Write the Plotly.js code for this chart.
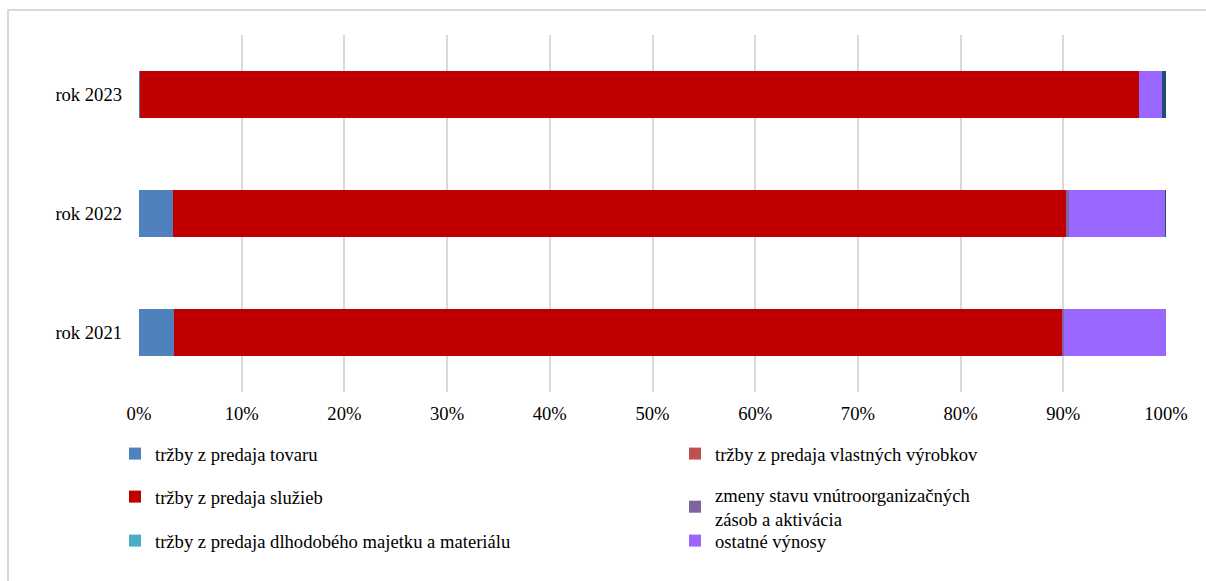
<!DOCTYPE html>
<html>
<head>
<meta charset="utf-8">
<script src="https://cdn.plot.ly/plotly-3.0.1.min.js"></script>
<style>html,body{margin:0;padding:0;background:#fff;}#chart{width:1206px;height:581px;}</style>
</head>
<body>
<div id="chart"></div>
<script>
const categories = ["rok 2021", "rok 2022", "rok 2023"];
const seriesNames = [
  "tržby z predaja tovaru",
  "tržby z predaja vlastných výrobkov",
  "tržby z predaja služieb",
  "zmeny stavu vnútroorganizačných<br>zásob a aktivácia",
  "tržby z predaja dlhodobého majetku a materiálu",
  "ostatné výnosy",
  "ostatné"
];
const tovaru      = [3.4, 3.3, 0.1];
const vyrobkov    = [0.0, 0.0, 0.0];
const sluzieb     = [86.5, 87.0, 97.3];
const zmeny       = [0.2, 0.3, 0.0];
const dlhodobeho  = [0.0, 0.0, 0.0];
const ostatne     = [9.9, 9.3, 2.2];
const ine         = [0.0, 0.1, 0.4];
const seriesValues = [tovaru, vyrobkov, sluzieb, zmeny, dlhodobeho, ostatne, ine];
const colors = ["#4F81BD", "#C0504D", "#C00000", "#8064A2", "#4BACC6", "#9966FF", "#1F4E79"];
const xTicks = [0,10,20,30,40,50,60,70,80,90,100];
const xTickText = xTicks.map(v => v + "%");

const legendNames = ["legend", "legend2", "legend3", "legend4", "legend5", "legend6"];
const traces = seriesValues.map((vals, i) => ({
  type: "bar",
  orientation: "h",
  name: seriesNames[i],
  y: categories,
  x: vals,
  marker: {color: colors[i], line: {width: 0}},
  showlegend: i < 6,
  legend: i < 6 ? legendNames[i] : undefined,
  hoverinfo: "x+name"
}));

const font = {family: "'Liberation Serif', 'Times New Roman', serif", size: 18.6, color: "#000"};
// plot area: x 139..1166, y 35..392
const T = 35, B = 392;
const pw = 1166 - 139, ph = B - T;
function px2x(p) { return (p - 139) / pw; }
function py2y(p) { return (B - p) / ph; }
function leg(xp, yp) {
  return {x: px2x(xp), y: py2y(yp), xanchor: "left", yanchor: "middle",
          orientation: "v", font: font, bgcolor: "rgba(0,0,0,0)", borderwidth: 0,
          itemwidth: 30, itemclick: false, itemdoubleclick: false};
}
const layout = {
  width: 1206, height: 581,
  margin: {l: 139, r: 40, t: T, b: 581 - B},
  paper_bgcolor: "#fff", plot_bgcolor: "#fff",
  font: font,
  barmode: "stack",
  bargap: 0.6,
  xaxis: {range: [0, 100], tickvals: xTicks, ticktext: xTickText, showgrid: true,
          gridcolor: "#d9d9d9", gridwidth: 2, zeroline: false, showline: false,
          ticks: "", ticklabelstandoff: 8, tickfont: font, fixedrange: true},
  yaxis: {categoryorder: "array", categoryarray: categories, showgrid: false,
          zeroline: false, showline: false, ticks: "", ticklabelstandoff: 16,
          tickfont: font, fixedrange: true},
  legend:  leg(115, 454),
  legend2: leg(675, 454),
  legend3: leg(115, 497),
  legend4: leg(675, 507),
  legend5: leg(115, 541),
  legend6: leg(675, 541),
  shapes: [{type: "rect", xref: "paper", yref: "paper",
            x0: px2x(8), x1: px2x(1215), y0: py2y(590), y1: py2y(10),
            line: {color: "#d9d9d9", width: 2}, fillcolor: "rgba(0,0,0,0)", layer: "below"}]
};
Plotly.newPlot("chart", traces, layout, {displayModeBar: false, staticPlot: true});
</script>
</body>
</html>
